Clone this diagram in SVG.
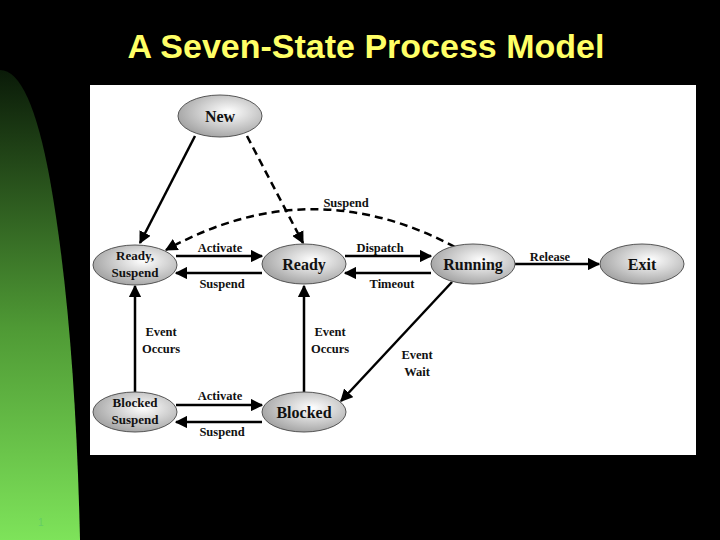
<svg xmlns="http://www.w3.org/2000/svg" width="720" height="540" viewBox="0 0 720 540">
<defs>
<linearGradient id="gr" x1="0" y1="0" x2="0" y2="1"><stop offset="0" stop-color="#0a1a08"/><stop offset="0.55" stop-color="#4f9a35"/><stop offset="1" stop-color="#7ee35a"/></linearGradient>
<radialGradient id="nf" cx="0.6" cy="0.4" r="0.7"><stop offset="0" stop-color="#ffffff"/><stop offset="1" stop-color="#9a9a9a"/></radialGradient>
<marker id="ah" viewBox="0 0 10 10" refX="9" refY="5" markerWidth="5" markerHeight="5" orient="auto"><path d="M0,0L10,5L0,10z" fill="#000"/></marker>
</defs>
<style>
.n{fill:url(#nf);stroke:#555;stroke-width:1}
.t{font-family:"Liberation Serif",serif;font-weight:bold;font-size:16px;text-anchor:middle;fill:#111}
.s{font-family:"Liberation Serif",serif;font-weight:bold;font-size:13px;text-anchor:middle;fill:#111}
.l{font-family:"Liberation Serif",serif;font-weight:bold;font-size:12.5px;text-anchor:middle;fill:#111}
.e{stroke:#000;stroke-width:2.5;fill:none;marker-end:url(#ah)}
.d{stroke-dasharray:8,5}
</style>
<rect width="720" height="540" fill="#000"/>
<path d="M0,70 Q30,70 50,180 Q75,320 80,540 L0,540z" fill="url(#gr)"/>
<text x="38" y="526" font-family="Liberation Sans,sans-serif" font-size="10" fill="#6c6">1</text>
<text x="366" y="58" font-family="Liberation Sans,sans-serif" font-weight="bold" font-size="34" fill="#ffff66" text-anchor="middle">A Seven-State Process Model</text>
<rect x="90" y="85" width="606" height="370" fill="#fff"/>
<g id="connectors">
<line class="e" x1="195" y1="136" x2="140" y2="243"/>
<line class="e d" x1="247" y1="136" x2="303" y2="243"/>
<path class="e d" d="M455,247 Q310,170 166,250"/>
<line class="e" x1="176" y1="256" x2="262" y2="256"/>
<line class="e" x1="262" y1="273" x2="176" y2="273"/>
<line class="e" x1="345" y1="256" x2="431" y2="256"/>
<line class="e" x1="431" y1="273" x2="345" y2="273"/>
<line class="e" x1="515" y1="264" x2="599" y2="264"/>
<line class="e" x1="135" y1="392" x2="135" y2="286"/>
<line class="e" x1="304" y1="392" x2="304" y2="286"/>
<line class="e" x1="452" y1="282" x2="341" y2="401"/>
<line class="e" x1="176" y1="405" x2="262" y2="405"/>
<line class="e" x1="262" y1="422" x2="176" y2="422"/>
<text class="l" x="346" y="207">Suspend</text>
<text class="l" x="220" y="252">Activate</text>
<text class="l" x="222" y="288">Suspend</text>
<text class="l" x="380" y="252">Dispatch</text>
<text class="l" x="392" y="288">Timeout</text>
<text class="l" x="550" y="261">Release</text>
<text class="l" x="161" y="336">Event</text><text class="l" x="161" y="353">Occurs</text>
<text class="l" x="330" y="336">Event</text><text class="l" x="330" y="353">Occurs</text>
<text class="l" x="417" y="359">Event</text><text class="l" x="417" y="376">Wait</text>
<text class="l" x="220" y="400">Activate</text>
<text class="l" x="222" y="436">Suspend</text>
</g>
<g id="new"><ellipse class="n" cx="220" cy="116" rx="42" ry="21"/><text class="t" x="220" y="122">New</text></g>
<g id="readysuspend"><ellipse class="n" cx="135" cy="265" rx="42" ry="20"/><text class="s" x="135" y="260">Ready,</text><text class="s" x="135" y="277">Suspend</text></g>
<g id="ready"><ellipse class="n" cx="304" cy="264" rx="42" ry="20"/><text class="t" x="304" y="270">Ready</text></g>
<g id="running"><ellipse class="n" cx="473" cy="264" rx="42" ry="20"/><text class="t" x="473" y="270">Running</text></g>
<g id="exit"><ellipse class="n" cx="642" cy="264" rx="42" ry="20"/><text class="t" x="642" y="270">Exit</text></g>
<g id="blockedsuspend"><ellipse class="n" cx="135" cy="412" rx="42" ry="20"/><text class="s" x="135" y="407">Blocked</text><text class="s" x="135" y="424">Suspend</text></g>
<g id="blocked"><ellipse class="n" cx="304" cy="412" rx="42" ry="20"/><text class="t" x="304" y="418">Blocked</text></g>
</svg>
